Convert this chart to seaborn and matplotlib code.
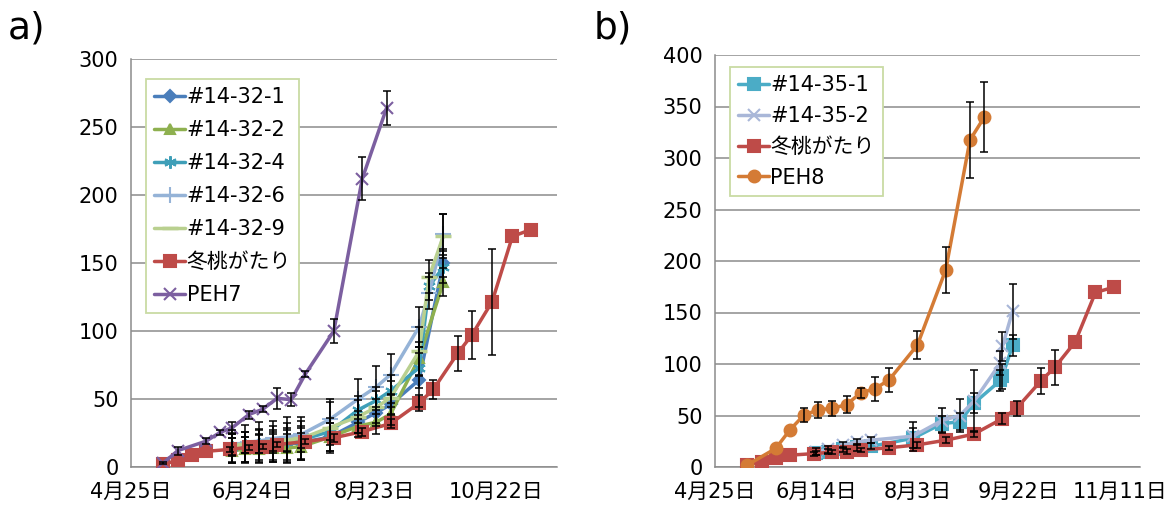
import matplotlib
matplotlib.use("Agg")
import matplotlib.pyplot as plt
import matplotlib.dates as mdates
import matplotlib.ticker as mticker
import numpy as np
import pandas as pd
import seaborn as sns

sns.set_theme(style="white")
plt.rcParams['font.family'] = ['DejaVu Sans', 'Noto Sans CJK JP']
plt.rcParams['text.color'] = 'black'
plt.rcParams['axes.labelcolor'] = 'black'

YEAR = 2014

# ---------------- panel a) ----------------
dates_ctrl = ["05-11", "05-18", "05-25", "06-01", "06-13", "06-22", "06-29", "07-06",
              "07-20", "08-03", "08-17", "08-31", "09-14", "09-21", "10-03", "10-10",
              "10-20", "10-30", "11-08"]
ctrl_vals = [2, 5, 9, 11.5, 13, 14.5, 15, 16.5, 18.7, 21.5, 26, 32, 47, 57, 83.5, 97,
             121.5, 169.5, 174.5]
ctrl_err_a = [0, 0, 0, 0, 2, 2, 2, 2, 2, 3, 3, 3, 6, 7, 13, 17.5, 39, 0, 0]
ctrl_err_b = [0, 0, 0, 0, 2, 2, 2, 2, 2, 3, 3, 3, 5, 7.5, 13, 17, 0, 0, 0]

dates_peh7 = ["05-11", "05-18", "06-01", "06-08", "06-14", "06-22", "06-29", "07-06",
              "07-13", "07-20", "08-03", "08-17", "08-29"]
peh7_vals = [3, 12, 19, 25.5, 29, 38.5, 42.5, 50.5, 49.5, 68.5, 100, 212, 264]
peh7_err = [1, 3, 2, 2, 4, 3, 2, 7.5, 5, 2, 9, 16, 12.5]

dates_1432 = ["06-14", "06-20", "06-27", "07-04", "07-11", "07-18", "08-01", "08-15",
              "08-24", "08-31", "09-14", "09-19", "09-26"]
l1432_1 = [14, 15, 16, 16.5, 17, 18, 22, 33, 40, 46, 64, np.nan, 150]
e1432_1 = [10, 11, 11, 11, 12, 12, 10, 8, 10, 8, 20, np.nan, 10]
l1432_2 = [12, 13, 13.5, 14, 14, 15, 22, 30, 33, 39, 80, np.nan, 136]
e1432_2 = [9, 9, 10, 10, 10, 10, 10, 8, 9, 8, 12, np.nan, 10]
l1432_4 = [15, 16, 17, 18, 19, 20, 26, 42, 49, 56, 73, 133, 147]
e1432_4 = [6, 6, 7, 8, 8, 9, 10, 10, 10, 12, 15, 10, 12]
l1432_6 = [16, 18, 19, 21, 22, 24, 35, 50, 59, 68, 103, 128, 171]
e1432_6 = [8, 8, 9, 9, 10, 10, 15, 15, 15, 15, 15, 12, 15]
l1432_9 = [15, 17, 18, 19, 20, 21, 29, 37, 44, 51, 85, 140, 170]
e1432_9 = [12, 14, 15, 15, 17, 16, 19, 12, 12, 12, 18, 12, 16]

# ---------------- panel b) ----------------
dates_1435 = ["06-14", "06-20", "06-27", "07-04", "07-11", "08-01", "08-15", "08-24",
              "08-31", "09-13", "09-14", "09-19"]
l1435_1 = [14, 15, 17, 19, 20, 28, 42, 44, 62, 84, 88, 118]
e1435_1 = [2, 2, 2, 3, 3, 10, 8, 8, 10, 10, 12, 10]
l1435_2 = [15, 17, 21, 24.5, 26, 30, 45, 50, 64, 101, 117, 151]
e1435_2 = [3, 3, 3, 3, 3, 14, 12, 16, 30, 12, 14, 27]

dates_peh8 = ["05-11", "05-25", "06-01", "06-08", "06-15", "06-22", "06-29", "07-06",
              "07-13", "07-20", "08-03", "08-17", "08-29", "09-05"]
peh8_vals = [2, 18, 36, 50.5, 55.5, 57, 60.5, 72, 76, 84.5, 118.4, 191.3, 317.5, 339.5]
peh8_err = [0, 0, 0, 7, 8, 7.4, 8, 5, 11.5, 12, 14, 22, 37, 34]

C_BLUE = "#4A7EBB"
C_GREEN = "#8EB04F"
C_TEAL = "#3F9FB8"
C_LBLUE = "#95B3D7"
C_LGREEN = "#B9D08F"
C_RED = "#BE4B48"
C_PURPLE = "#7C5FA0"
C_AQUA = "#4BACC6"
C_LAV = "#A9B7D8"
C_ORANGE = "#D47B35"
GRID = "#8c8c8c"


def to_dates(md):
    return pd.to_datetime([f"{YEAR}-{d}" for d in md])


def draw(ax, md, vals, errs, color, marker, ms, label, z, mew=1.5):
    df = pd.DataFrame({"date": to_dates(md), "value": vals, "err": errs}).dropna()
    sns.lineplot(data=df, x="date", y="value", ax=ax, color=color, marker=marker,
                 markersize=ms, markeredgecolor=color, markerfacecolor=color,
                 markeredgewidth=mew, linewidth=2.5, label=label, zorder=z, sort=True)
    eb = df[df["err"] > 0]
    ax.errorbar(eb["date"], eb["value"], yerr=eb["err"], fmt="none", ecolor="black",
                elinewidth=1.1, capsize=3, capthick=1.1, zorder=20)


def style_axis(ax, ymax, step_days):
    ax.set_xlim(pd.Timestamp(f"{YEAR}-04-25"), pd.Timestamp(f"{YEAR}-11-21"))
    ax.set_ylim(0, ymax)
    ax.yaxis.set_major_locator(mticker.MultipleLocator(50))
    start = pd.Timestamp(f"{YEAR}-04-25")
    ticks = [start + pd.Timedelta(days=step_days * k) for k in range(5)]
    ticks = [t for t in ticks if t <= pd.Timestamp(f"{YEAR}-11-21")]
    ax.set_xticks(ticks)
    ax.xaxis.set_major_formatter(
        mticker.FuncFormatter(lambda v, p: (lambda d: f"{d.month}月{d.day}日")(mdates.num2date(v))))
    ax.set_xlabel("")
    ax.set_ylabel("")
    ax.yaxis.grid(True, color=GRID, linewidth=1.1)
    ax.xaxis.grid(False)
    for s in ["top", "right"]:
        ax.spines[s].set_visible(False)
    for s in ["left", "bottom"]:
        ax.spines[s].set_color(GRID)
        ax.spines[s].set_linewidth(1.1)
    ax.tick_params(axis="both", direction="out", length=5, width=1.1, color=GRID,
                   labelsize=15, labelcolor="black", pad=4)
    ax.tick_params(axis="x", pad=6)


fig = plt.figure(figsize=(11.72, 5.13), dpi=100)
ax1 = fig.add_axes([131 / 1172, 1 - 467 / 513, 426 / 1172, 408 / 513])
ax2 = fig.add_axes([715 / 1172, 1 - 467 / 513, 425 / 1172, 412 / 513])

# panel a)
draw(ax1, dates_1432, l1432_1, e1432_1, C_BLUE, "D", 6.5, "#14-32-1", 3)
draw(ax1, dates_1432, l1432_2, e1432_2, C_GREEN, "^", 7.5, "#14-32-2", 3.1)
draw(ax1, dates_1432, l1432_4, e1432_4, C_TEAL, (6, 2, 0), 9, "#14-32-4", 3.2)
draw(ax1, dates_1432, l1432_6, e1432_6, C_LBLUE, "+", 11, "#14-32-6", 3.3)
draw(ax1, dates_1432, l1432_9, e1432_9, C_LGREEN, "_", 11, "#14-32-9", 3.4, mew=2.5)
draw(ax1, dates_ctrl, ctrl_vals, ctrl_err_a, C_RED, "s", 8.5, "冬桃がたり", 3.5)
draw(ax1, dates_peh7, peh7_vals, peh7_err, C_PURPLE, "x", 9, "PEH7", 3.6)
style_axis(ax1, 300, 60)

# panel b)
draw(ax2, dates_1435, l1435_1, e1435_1, C_AQUA, "s", 8.5, "#14-35-1", 3)
draw(ax2, dates_1435, l1435_2, e1435_2, C_LAV, "x", 9, "#14-35-2", 3.1)
draw(ax2, dates_ctrl, ctrl_vals, ctrl_err_b, C_RED, "s", 8.5, "冬桃がたり", 3.2)
draw(ax2, dates_peh8, peh8_vals, peh8_err, C_ORANGE, "o", 8.5, "PEH8", 3.3)
style_axis(ax2, 400, 50)

for ax, anchor, spacing in [(ax1, (0.035, 0.951), 0.62), (ax2, (0.035, 0.971), 0.52)]:
    leg = ax.legend(loc="upper left", bbox_to_anchor=anchor, borderaxespad=0,
                    fontsize=15, frameon=True, fancybox=False, framealpha=1,
                    edgecolor="#C9DBA4", facecolor="white", labelspacing=spacing,
                    handlelength=1.5, handletextpad=0.05, borderpad=0.4, numpoints=1)
    leg.get_frame().set_linewidth(1.3)
    leg.set_zorder(30)
    for t in leg.get_texts():
        t.set_color("black")

fig.text(8 / 1172, 1 - 28 / 513, "a)", fontsize=27, va="center", ha="left", color="black")
fig.text(594 / 1172, 1 - 28 / 513, "b)", fontsize=27, va="center", ha="left", color="black")

fig.savefig("out.png", dpi=100)
